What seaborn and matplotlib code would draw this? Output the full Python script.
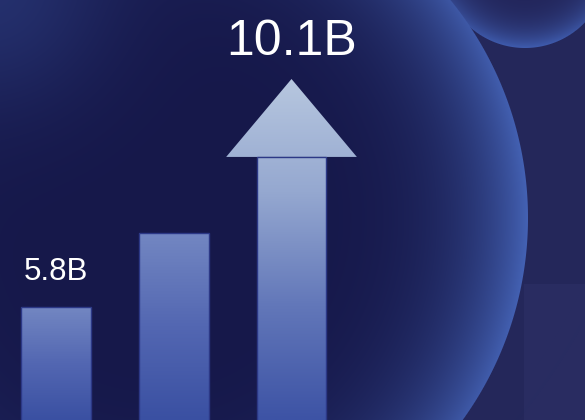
import numpy as np
import pandas as pd
import matplotlib
matplotlib.use("Agg")
import matplotlib.pyplot as plt
import seaborn as sns
from matplotlib.colors import LinearSegmentedColormap, to_rgb
from matplotlib.patches import Polygon

# ---- data ----
categories = ["Stage 1", "Stage 2", "Stage 3"]
values = [5.8, 7.2, 10.1]
labels = ["5.8B", "", "10.1B"]

sns.set_theme(style="white")
plt.rcParams["font.family"] = ["Liberation Sans", "DejaVu Sans"]

W, H, DPI = 585, 420, 100
fig = plt.figure(figsize=(W / DPI, H / DPI), dpi=DPI)
fig.patch.set_facecolor("#24275a")

# ---- decorative background (spheres) ----
bg = fig.add_axes([0, 0, 1, 1], zorder=0)
bg.set_axis_off()
yy, xx = np.mgrid[0:H, 0:W] + 0.5
img = np.zeros((H, W, 3))
img[:] = to_rgb("#24275a")
panel = (xx >= 524) & (yy >= 284)
img[panel] = to_rgb("#292c61")


def blend(img, mask_soft, col):
    img[:] = img * (1 - mask_soft[..., None]) + col * mask_soft[..., None]


# small sphere (top right)
cx2, cy2, r2 = 525, -35, 83
dd2 = np.hypot(xx - cx2, yy - cy2)
d2 = dd2 / r2
ang2 = np.arctan2(yy - cy2, xx - cx2)
t2 = np.clip(d2, 0, 1) ** 4 * (0.3 + 0.7 * np.clip(np.sin(ang2), 0, 1))
dark2, rim2 = np.array(to_rgb("#22255a")), np.array(to_rgb("#3f5cae"))
col2 = dark2 + (rim2 - dark2) * t2[..., None]
m2 = np.clip((r2 - dd2) + 0.5, 0, 1)
blend(img, m2, col2)

# big sphere
cx, cy, r = 183, 218, 345
dist = np.hypot(xx - cx, yy - cy)
d = dist / r
ang = np.arctan2(yy - cy, xx - cx)
w = 0.25 + 0.75 * (0.5 + 0.5 * np.cos(ang)) ** 2
t = np.clip(d, 0, 1) ** 5 * w
dark, rim = np.array(to_rgb("#16184a")), np.array(to_rgb("#4462b4"))
col = dark + (rim - dark) * t[..., None]
m = np.clip((r - dist) + 0.5, 0, 1)
blend(img, m, col)

# soft glow from the upper-left corner
g = np.exp(-(np.hypot(xx, yy) / 110.0) ** 2) * 0.55
blend(img, g, np.array(to_rgb("#2c3d80")))

bg.imshow(img, extent=[0, W, H, 0], aspect="auto", interpolation="bilinear")
bg.set_xlim(0, W)
bg.set_ylim(H, 0)

# ---- chart ----
ax = fig.add_axes([0, 0, 1, 1], zorder=1)
ax.patch.set_alpha(0)

head_len = 1.47      # arrow head length (data units)
head_half = 0.555    # arrow head half width (category units)
is_arrow = [False, False, True]
heights = [v - head_len if a else v for v, a in zip(values, is_arrow)]
df = pd.DataFrame({"category": categories, "height": heights})

sns.barplot(data=df, x="category", y="height", ax=ax, width=0.593,
            color="#5066b0", saturation=1)

ylo, yhi = 3.668, 11.59
xlo = -0.4756
bar_cmap = LinearSegmentedColormap.from_list("bar", ["#3a50a2", "#5367b2", "#7387c2"])
arrow_cmap = LinearSegmentedColormap.from_list("arr", ["#3d53a5", "#6277b9", "#95a8d0", "#b7c7df"])
grad = np.linspace(0, 1, 256)[:, None]

for patch, v, a, lab in zip(ax.patches, values, is_arrow, labels):
    x0 = patch.get_x()
    bw = patch.get_width()
    top = patch.get_height()
    patch.set_facecolor("none")
    patch.set_edgecolor("#2c3886")
    patch.set_linewidth(1.0)
    patch.set_zorder(3)
    if a:
        xc = x0 + bw / 2
        head = Polygon([[xc - head_half, top], [xc, v], [xc + head_half, top]],
                       closed=True, facecolor="none", edgecolor="none", zorder=3)
        ax.add_patch(head)
        for clipper in (patch, head):
            im = ax.imshow(grad, cmap=arrow_cmap, origin="lower", aspect="auto",
                           extent=[xc - head_half, xc + head_half, ylo, v],
                           interpolation="bilinear", zorder=2)
            im.set_clip_path(clipper)
    else:
        im = ax.imshow(grad, cmap=bar_cmap, origin="lower", aspect="auto",
                       extent=[x0, x0 + bw, ylo, top], interpolation="bilinear", zorder=2)
        im.set_clip_path(patch)
    if lab:
        ax.annotate(lab, xy=(x0 + bw / 2, v), xytext=(0, 17.3 if a else 19.4),
                    textcoords="offset points", ha="center", va="baseline",
                    color="white", fontsize=36 if a else 22.5, zorder=5)

ax.set_xlim(xlo, xlo + W / 117.75)
ax.set_ylim(ylo, yhi)
ax.set_axis_off()

fig.savefig("out.png", dpi=DPI, facecolor=fig.get_facecolor())
